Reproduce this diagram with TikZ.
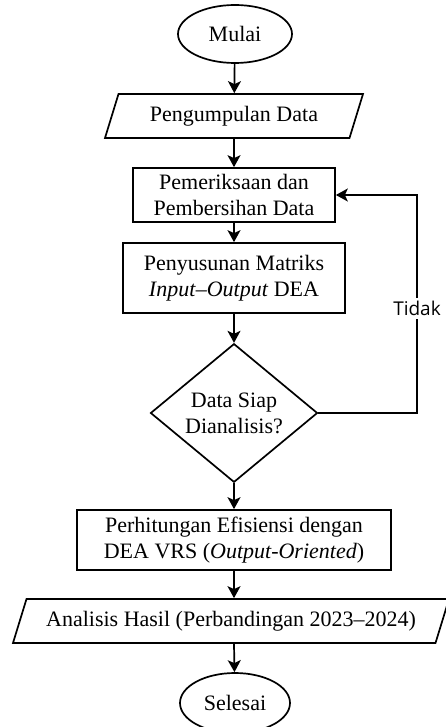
\documentclass[tikz,border=0pt]{standalone}
\usepackage{fontspec}
\setmainfont{Liberation Serif}
\newfontfamily\tidakfont{Open Sans}
\usetikzlibrary{shapes.geometric,arrows.meta}

\begin{document}
\begin{tikzpicture}[x=0.5pt,y=-0.5pt,
    font=\fontsize{11}{13}\selectfont,
    line width=0.85pt,
    >={Stealth[length=6pt,width=6.5pt,inset=1.5pt]},
    terminal/.style={draw,ellipse,inner sep=0pt,minimum width=57pt,minimum height=29pt},
    proses/.style={draw,rectangle,align=center,inner sep=0pt},
    io/.style={draw,trapezium,trapezium left angle=56,trapezium right angle=124,
      trapezium stretches body,inner sep=0pt,minimum height=22pt},
    keputusan/.style={draw,diamond,align=center,inner sep=0pt,
      minimum width=83.5pt,minimum height=65pt}]
      \useasboundingbox (0,0) rectangle (445,727);
      \draw
        (235,34) node[terminal] (mulai){Mulai}
        (234,116) node[io,minimum width=129pt] (pengumpulan){Pengumpulan Data}
        (234,195) node[proses,minimum width=101pt,minimum height=27pt] (pemeriksaan){Pemeriksaan dan\\Pembersihan Data}
        (234,278) node[proses,minimum width=111pt,minimum height=35pt] (penyusunan){Penyusunan Matriks\\\textit{Input}--\textit{Output} DEA}
        (234,413) node[keputusan] (siap){Data Siap\\Dianalisis?}
        (234,540) node[proses,minimum width=157pt,minimum height=30pt] (perhitungan){Perhitungan Efisiensi dengan\\DEA VRS (\textit{Output-Oriented})}
        (231,621) node[io,minimum width=218pt] (analisis){Analisis Hasil (Perbandingan 2023--2024)}
        (235,703) node[terminal,minimum width=55pt,minimum height=30pt] (selesai){Selesai};
      \coordinate (balik) at (417,195);
      \begin{scope}[->]
        \draw (mulai) to (pengumpulan);
        \draw (pengumpulan) to (pemeriksaan);
        \draw (pemeriksaan) to (penyusunan);
        \draw (penyusunan) to (siap);
        \draw (siap) to (perhitungan);
        \draw (perhitungan.south) to (perhitungan.south |- analisis.north);
        \draw (perhitungan.south |- analisis.south) to (selesai);
        \draw (siap.east) -| node[pos=0.74,fill=white,inner sep=1.5pt,
          font=\tidakfont\fontsize{9.5}{10}\selectfont] (tidak){Tidak} (balik) -- (pemeriksaan.east);
      \end{scope}
    \end{tikzpicture}
\end{document}
